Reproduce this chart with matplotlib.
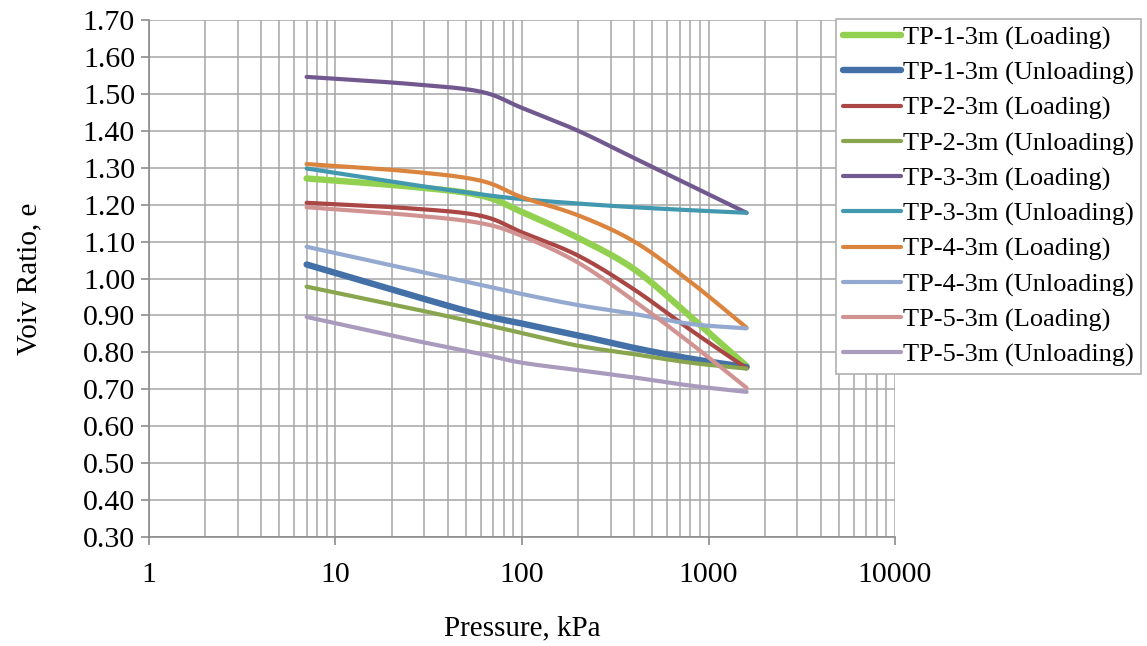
import numpy as np
import matplotlib
matplotlib.use("Agg")
import matplotlib.pyplot as plt
from matplotlib.ticker import LogLocator, FixedLocator, NullFormatter

plt.rcParams['font.family'] = ['Liberation Serif', 'DejaVu Serif']

# pressures (kPa)
pressure = [7, 25, 60, 100, 200, 400, 800, 1600]

tp1_load = [1.271, 1.249, 1.225, 1.180, 1.110, 1.025, 0.897, 0.763]
tp1_unload = [1.038, 0.956, 0.902, 0.878, 0.846, 0.812, 0.783, 0.760]
tp2_load = [1.205, 1.190, 1.170, 1.125, 1.062, 0.970, 0.861, 0.757]
tp2_unload = [0.978, 0.920, 0.878, 0.852, 0.818, 0.795, 0.772, 0.756]
tp3_load = [1.546, 1.527, 1.506, 1.462, 1.400, 1.326, 1.252, 1.178]
tp3_unload = [1.298, 1.255, 1.228, 1.215, 1.203, 1.193, 1.185, 1.178]
tp4_load = [1.310, 1.290, 1.265, 1.220, 1.171, 1.100, 0.991, 0.867]
tp4_unload = [1.086, 1.025, 0.983, 0.958, 0.928, 0.904, 0.877, 0.865]
tp5_load = [1.193, 1.172, 1.150, 1.115, 1.043, 0.939, 0.825, 0.704]
tp5_unload = [0.896, 0.835, 0.796, 0.772, 0.752, 0.732, 0.710, 0.693]

labels = ["TP-1-3m (Loading)", "TP-1-3m (Unloading)", "TP-2-3m (Loading)",
          "TP-2-3m (Unloading)", "TP-3-3m (Loading)", "TP-3-3m (Unloading)",
          "TP-4-3m (Loading)", "TP-4-3m (Unloading)", "TP-5-3m (Loading)",
          "TP-5-3m (Unloading)"]
series = [tp1_load, tp1_unload, tp2_load, tp2_unload, tp3_load, tp3_unload,
          tp4_load, tp4_unload, tp5_load, tp5_unload]
colors = ["#92D050", "#4470A8", "#AA4643", "#89A54E", "#71588F",
          "#4198AF", "#DB843D", "#93A9CF", "#D19392", "#A99BBD"]
widths = [4.6, 4.6, 3.0, 3.0, 3.0, 3.0, 3.0, 3.0, 3.0, 3.0]


def smooth(xs, ys, n=30):
    # catmull-rom through the points in log-x space (like Excel smoothed lines)
    lx = np.log10(xs)
    ys = np.asarray(ys, float)
    px = np.concatenate([[2 * lx[0] - lx[1]], lx, [2 * lx[-1] - lx[-2]]])
    py = np.concatenate([[2 * ys[0] - ys[1]], ys, [2 * ys[-1] - ys[-2]]])
    ox, oy = [], []
    t = np.linspace(0, 1, n)
    for i in range(1, len(px) - 2):
        for arr, out in ((px, ox), (py, oy)):
            p0, p1, p2, p3 = arr[i - 1], arr[i], arr[i + 1], arr[i + 2]
            out.extend(0.5 * ((2 * p1) + (-p0 + p2) * t +
                              (2 * p0 - 5 * p1 + 4 * p2 - p3) * t ** 2 +
                              (-p0 + 3 * p1 - 3 * p2 + p3) * t ** 3))
    return 10 ** np.array(ox), np.array(oy)


fig = plt.figure(figsize=(11.47, 6.46), dpi=100)
ax = fig.add_axes([0.1299, 0.1687, 0.6504, 0.8003])

for ys, lab, c, w in zip(series, labels, colors, widths):
    sx, sy = smooth(pressure, ys)
    ax.plot(sx, sy, color=c, lw=w, label=lab, solid_capstyle='round')

ax.set_xscale('log')
ax.set_xlim(1, 10000)
ax.set_ylim(0.30, 1.70)
yt = np.arange(0.30, 1.701, 0.10)
ax.yaxis.set_major_locator(FixedLocator(yt))
ax.set_yticklabels([f"{v:.2f}" for v in yt])
ax.xaxis.set_major_locator(FixedLocator([1, 10, 100, 1000, 10000]))
ax.set_xticklabels(["1", "10", "100", "1000", "10000"])
ax.xaxis.set_minor_locator(LogLocator(base=10, subs=np.arange(2, 10)))
ax.xaxis.set_minor_formatter(NullFormatter())

ax.grid(True, which='major', color='#A6A6A6', lw=1.1)
ax.grid(True, which='minor', axis='x', color='#A6A6A6', lw=1.1)
ax.set_axisbelow(True)
for s in ['top', 'right']:
    ax.spines[s].set_visible(False)
for s in ['left', 'bottom']:
    ax.spines[s].set_color('#8C8C8C')
    ax.spines[s].set_linewidth(1.2)

ax.tick_params(axis='y', which='major', length=6, width=1.2, color='#8C8C8C',
               labelsize=21.5, pad=4)
ax.tick_params(axis='x', which='major', length=6, width=1.2, color='#8C8C8C',
               labelsize=21.5, pad=12)
ax.tick_params(axis='x', which='minor', length=0)

ax.set_xlabel("Pressure, kPa", fontsize=21, labelpad=20)
ax.set_ylabel("Voiv Ratio, e", fontsize=21, labelpad=29)

leg = fig.legend(loc='upper left', bbox_to_anchor=(0.729, 0.970), fontsize=19,
                 frameon=True, fancybox=False, edgecolor='#B0B0B0',
                 framealpha=1, handlelength=2.2, handletextpad=0.1,
                 borderpad=0.25, labelspacing=0.43, borderaxespad=0)
leg.get_frame().set_linewidth(1.2)

fig.savefig("out.png", dpi=100)
